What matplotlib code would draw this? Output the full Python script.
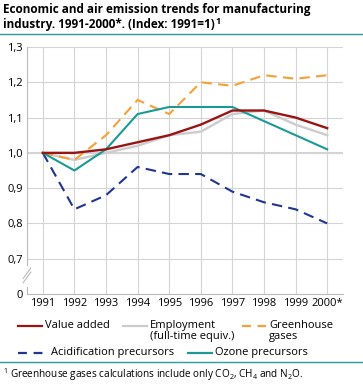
import matplotlib.pyplot as plt
import matplotlib.lines as mlines

plt.rcParams['font.family'] = ['Open Sans', 'DejaVu Sans']
plt.rcParams['mathtext.fontset'] = 'custom'
plt.rcParams['mathtext.rm'] = 'Open Sans'

years = ['1991', '1992', '1993', '1994', '1995', '1996', '1997', '1998', '1999', '2000*']
value_added = [1.00, 1.00, 1.01, 1.03, 1.05, 1.08, 1.12, 1.12, 1.10, 1.07]
employment = [1.00, 0.98, 1.00, 1.02, 1.05, 1.06, 1.11, 1.12, 1.08, 1.05]
greenhouse = [1.00, 0.98, 1.05, 1.15, 1.11, 1.20, 1.19, 1.22, 1.21, 1.22]
acidification = [1.00, 0.84, 0.88, 0.96, 0.94, 0.94, 0.89, 0.86, 0.84, 0.80]
ozone = [1.00, 0.95, 1.01, 1.11, 1.13, 1.13, 1.13, 1.09, 1.05, 1.01]

ytick_vals = [0.6, 0.7, 0.8, 0.9, 1.0, 1.1, 1.2, 1.3]
ytick_labels = ['0', '0,7', '0,8', '0,9', '1,0', '1,1', '1,2', '1,3']

W, H = 363, 385
fig = plt.figure(figsize=(W / 100, H / 100), dpi=100)

# title, two lines plus a superscript after the second one
fig.text(3 / W, 1 - 3 / H, 'Economic and air emission trends for manufacturing',
         fontsize=8.5, fontweight='bold', va='top', ha='left')
t2 = fig.text(3 / W, 1 - 18 / H, 'industry. 1991-2000*. (Index: 1991=1)',
              fontsize=8.5, fontweight='bold', va='top', ha='left')
fig.add_artist(plt.Annotation('1', xy=(1, 1), xycoords=t2, xytext=(0.2, 0.5),
                              textcoords='offset points', fontsize=6.5,
                              fontweight='bold', va='top', ha='left'))
fig.add_artist(mlines.Line2D([0, 1], [1 - 34 / H, 1 - 34 / H], color='#2a9d9a', lw=1.0))

ax = fig.add_axes([27 / W, 1 - 294 / H, 316 / W, (294 - 47) / H])
x = list(range(len(years)))

ax.plot(x, employment, color='#cccccc', lw=1.7, zorder=3)
ax.plot(x, greenhouse, color='#f7a035', lw=1.5, dashes=(5, 3), zorder=3)
ax.plot(x, acidification, color='#1f3592', lw=1.5, dashes=(5, 3), zorder=3)
ax.plot(x, ozone, color='#1a9a96', lw=1.5, zorder=4)
ax.plot(x, value_added, color='#9b1414', lw=1.7, zorder=5)

ax.set_xlim(-0.5, len(years) - 0.5)
ax.set_ylim(0.6, 1.3)
ax.set_xticks(x)
ax.set_xticklabels(years, fontsize=8)
ax.set_yticks(ytick_vals)
ax.set_yticklabels(ytick_labels, fontsize=8)
ax.tick_params(length=0, pad=3)
ax.grid(True, color='#d4d4d4', lw=0.8)
ax.axhline(1.0, color='#d4d4d4', lw=1.5, zorder=1)
for s in ['top', 'right']:
    ax.spines[s].set_visible(False)
ax.spines['left'].set_color('#bbbbbb')
ax.spines['bottom'].set_color('#bbbbbb')

# axis break marks
ax.plot([-0.5, -0.5], [0.625, 0.675], color='white', lw=3, clip_on=False, zorder=6)
for dy in (0.0, 0.012):
    ax.plot([-0.62, -0.38], [0.632 + dy, 0.662 + dy], color='#bbbbbb', lw=0.8,
            clip_on=False, zorder=7)

# legend
def leg(x0, y0, text, color, dashed=False, length=24):
    ln = mlines.Line2D([x0 / W, (x0 + length) / W], [1 - y0 / H, 1 - y0 / H],
                       color=color, lw=1.6)
    if dashed:
        ln.set_dashes((4, 3))
    fig.add_artist(ln)
    fig.text((x0 + length + 3) / W, 1 - (y0 - 6) / H, text, fontsize=8,
             va='top', ha='left', linespacing=1.0)

leg(18, 326, 'Value added', '#9b1414')
leg(123, 326, 'Employment\n(full-time equiv.)', '#cccccc')
leg(242, 326, 'Greenhouse\ngases', '#f7a035', dashed=True)
leg(18, 353, 'Acidification precursors', '#1f3592', dashed=True, length=30)
leg(188, 353, 'Ozone precursors', '#1a9a96')

fig.add_artist(mlines.Line2D([0, 1], [1 - 362 / H, 1 - 362 / H], color='#2a9d9a', lw=1.0))
fig.text(3 / W, 1 - 375 / H,
         '$^1$ Greenhouse gases calculations include only CO$_2$, CH$_4$ and N$_2$O.',
         fontsize=7.2, va='center', ha='left')

fig.savefig('out.png', dpi=100)
